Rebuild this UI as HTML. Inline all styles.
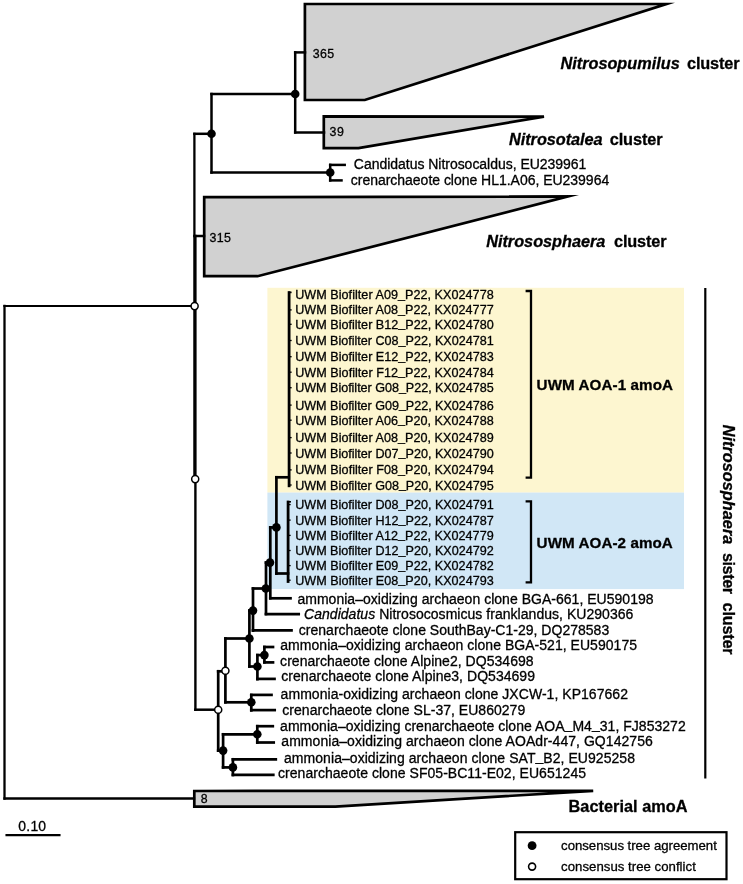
<!DOCTYPE html>
<html><head><meta charset="utf-8"><title>amoA phylogenetic tree</title>
<style>
html,body{margin:0;padding:0;background:#fff;}
body{width:743px;height:884px;overflow:hidden;font-family:"Liberation Sans",sans-serif;}
svg{display:block;will-change:transform;}
svg text{font-family:"Liberation Sans",sans-serif;fill:#000;stroke:#000;stroke-width:0.3px;}
.i{font-style:italic}.b{font-weight:bold}.bi{font-weight:bold;font-style:italic}
</style></head><body>
<svg width="743" height="884" viewBox="0 0 743 884">
<rect width="743" height="884" fill="#fff"/>
<rect x="267.4" y="287.8" width="416.6" height="204.8" fill="#fdf6d0"/>
<rect x="267.4" y="492.6" width="416.6" height="96.5" fill="#d1e7f6"/>
<g fill="#d1d1d1" stroke="#000" stroke-width="2.7" stroke-linejoin="miter" stroke-miterlimit="10">
<polygon points="304.9,4.0 666.3,4.0 364.8,100.0 304.9,100.0"/>
<polygon points="323.8,116.4 544.0,116.6 358.5,148.1 323.8,148.1"/>
<polygon points="204.2,197.2 568.2,196.4 257.5,276.2 204.2,276.2"/>
<polygon points="194.3,791.0 593.2,790.8 335.4,806.6 194.3,806.6"/>
</g>
<g stroke="#000" stroke-linecap="square" fill="none">
<line x1="4.5" y1="306.0" x2="194.3" y2="306.0" stroke-width="2.2"/>
<line x1="4.5" y1="306.0" x2="4.5" y2="798.5" stroke-width="2.3"/>
<line x1="4.5" y1="798.5" x2="194.0" y2="798.5" stroke-width="2.3"/>
<line x1="194.4" y1="133.8" x2="194.4" y2="479.3" stroke-width="2.3"/>
<line x1="195.4" y1="236.0" x2="195.4" y2="709.7" stroke-width="2.4"/>
<line x1="194.4" y1="133.8" x2="211.5" y2="133.8" stroke-width="2.5"/>
<line x1="211.5" y1="94.0" x2="211.5" y2="172.5" stroke-width="2.5"/>
<line x1="211.5" y1="94.0" x2="295.2" y2="94.0" stroke-width="2.5"/>
<line x1="295.2" y1="52.4" x2="295.2" y2="132.4" stroke-width="2.5"/>
<line x1="295.2" y1="52.4" x2="305.0" y2="52.4" stroke-width="2.5"/>
<line x1="295.2" y1="132.4" x2="324.0" y2="132.4" stroke-width="2.5"/>
<line x1="211.5" y1="172.5" x2="330.2" y2="172.5" stroke-width="2.5"/>
<line x1="330.2" y1="164.9" x2="330.2" y2="180.4" stroke-width="2.5"/>
<line x1="330.2" y1="164.9" x2="344.7" y2="164.9" stroke-width="2.5"/>
<line x1="330.2" y1="180.4" x2="341.5" y2="180.4" stroke-width="2.5"/>
<line x1="194.4" y1="236.0" x2="204.0" y2="236.0" stroke-width="2.5"/>
<line x1="195.4" y1="709.7" x2="218.2" y2="709.7" stroke-width="2.5"/>
<line x1="218.2" y1="671.3" x2="218.2" y2="750.6" stroke-width="2.7"/>
<line x1="218.2" y1="671.3" x2="225.4" y2="671.3" stroke-width="2.7"/>
<line x1="225.4" y1="638.5" x2="225.4" y2="702.3" stroke-width="2.7"/>
<line x1="225.4" y1="638.5" x2="249.4" y2="638.5" stroke-width="2.7"/>
<line x1="225.4" y1="702.3" x2="251.3" y2="702.3" stroke-width="2.7"/>
<line x1="251.3" y1="695.0" x2="251.3" y2="710.4" stroke-width="2.7"/>
<line x1="251.3" y1="694.9" x2="271.5" y2="694.9" stroke-width="2.7"/>
<line x1="251.3" y1="710.1" x2="274.7" y2="710.1" stroke-width="2.7"/>
<line x1="218.2" y1="750.6" x2="223.1" y2="750.6" stroke-width="2.7"/>
<line x1="223.1" y1="734.3" x2="223.1" y2="767.4" stroke-width="2.7"/>
<line x1="223.1" y1="734.3" x2="257.3" y2="734.3" stroke-width="2.7"/>
<line x1="257.3" y1="726.2" x2="257.3" y2="742.5" stroke-width="2.7"/>
<line x1="257.3" y1="726.2" x2="272.8" y2="726.2" stroke-width="2.7"/>
<line x1="257.3" y1="742.5" x2="273.7" y2="742.5" stroke-width="2.7"/>
<line x1="223.1" y1="767.4" x2="232.9" y2="767.4" stroke-width="2.7"/>
<line x1="232.9" y1="759.3" x2="232.9" y2="775.0" stroke-width="2.7"/>
<line x1="232.9" y1="759.3" x2="275.8" y2="759.3" stroke-width="2.7"/>
<line x1="232.9" y1="774.9" x2="273.3" y2="774.9" stroke-width="2.7"/>
<line x1="249.4" y1="610.6" x2="249.4" y2="666.5" stroke-width="2.7"/>
<line x1="249.4" y1="666.5" x2="257.4" y2="666.5" stroke-width="2.7"/>
<line x1="257.4" y1="655.1" x2="257.4" y2="679.2" stroke-width="2.7"/>
<line x1="257.4" y1="655.1" x2="264.4" y2="655.1" stroke-width="2.7"/>
<line x1="264.4" y1="647.0" x2="264.4" y2="662.3" stroke-width="2.7"/>
<line x1="264.4" y1="647.0" x2="273.0" y2="647.0" stroke-width="2.7"/>
<line x1="264.4" y1="662.4" x2="273.0" y2="662.4" stroke-width="2.7"/>
<line x1="257.4" y1="678.9" x2="274.5" y2="678.9" stroke-width="2.7"/>
<line x1="249.4" y1="610.6" x2="253.0" y2="610.6" stroke-width="2.7"/>
<line x1="253.0" y1="588.5" x2="253.0" y2="630.6" stroke-width="2.7"/>
<line x1="253.0" y1="630.4" x2="291.5" y2="630.4" stroke-width="2.7"/>
<line x1="253.0" y1="588.5" x2="266.0" y2="588.5" stroke-width="2.7"/>
<line x1="266.0" y1="562.6" x2="266.0" y2="614.0" stroke-width="2.7"/>
<line x1="266.0" y1="614.1" x2="298.7" y2="614.1" stroke-width="2.7"/>
<line x1="266.0" y1="562.6" x2="270.3" y2="562.6" stroke-width="2.7"/>
<line x1="270.3" y1="527.4" x2="270.3" y2="598.2" stroke-width="2.7"/>
<line x1="270.3" y1="598.3" x2="290.5" y2="598.3" stroke-width="2.7"/>
<line x1="270.3" y1="527.4" x2="276.4" y2="527.4" stroke-width="2.7"/>
<line x1="276.4" y1="477.3" x2="276.4" y2="573.5" stroke-width="2.7"/>
<line x1="276.4" y1="477.3" x2="288.7" y2="477.3" stroke-width="2.7"/>
<line x1="276.4" y1="573.5" x2="288.0" y2="573.5" stroke-width="2.7"/>
<line x1="289.1" y1="292.6" x2="289.1" y2="485.8" stroke-width="2.8"/>
<line x1="289.1" y1="292.4" x2="290.8" y2="292.4" stroke-width="1.6"/>
<line x1="288.1" y1="502.0" x2="288.1" y2="581.5" stroke-width="2.8"/>
<line x1="288.1" y1="501.8" x2="290.2" y2="501.8" stroke-width="1.6"/>
<line x1="705.3" y1="289.2" x2="705.3" y2="777.4" stroke-width="2.2"/>
<line x1="6.6" y1="835.2" x2="59.4" y2="835.2" stroke-width="2.3"/>
<line x1="289.1" y1="309.9" x2="291.0" y2="309.9" stroke-width="1.3"/>
<line x1="289.1" y1="324.3" x2="291.0" y2="324.3" stroke-width="1.3"/>
<line x1="289.1" y1="340.5" x2="291.0" y2="340.5" stroke-width="1.3"/>
<line x1="289.1" y1="356.7" x2="291.0" y2="356.7" stroke-width="1.3"/>
<line x1="289.1" y1="372.2" x2="291.0" y2="372.2" stroke-width="1.3"/>
<line x1="289.1" y1="387.7" x2="291.0" y2="387.7" stroke-width="1.3"/>
<line x1="289.1" y1="405.1" x2="291.0" y2="405.1" stroke-width="1.3"/>
<line x1="289.1" y1="420.2" x2="291.0" y2="420.2" stroke-width="1.3"/>
<line x1="289.1" y1="437.6" x2="291.0" y2="437.6" stroke-width="1.3"/>
<line x1="289.1" y1="453.0" x2="291.0" y2="453.0" stroke-width="1.3"/>
<line x1="289.1" y1="469.9" x2="291.0" y2="469.9" stroke-width="1.3"/>
<line x1="289.1" y1="485.0" x2="291.0" y2="485.0" stroke-width="1.3"/>
<line x1="288.1" y1="504.6" x2="290.0" y2="504.6" stroke-width="1.3"/>
<line x1="288.1" y1="520.1" x2="290.0" y2="520.1" stroke-width="1.3"/>
<line x1="288.1" y1="535.4" x2="290.0" y2="535.4" stroke-width="1.3"/>
<line x1="288.1" y1="550.5" x2="290.0" y2="550.5" stroke-width="1.3"/>
<line x1="288.1" y1="565.6" x2="290.0" y2="565.6" stroke-width="1.3"/>
<line x1="288.1" y1="580.2" x2="290.0" y2="580.2" stroke-width="1.3"/>
</g>
<path d="M525.6,291.0 H531.0 V477.6 H525.6 M525.6,501.4 H531.0 V582.3 H525.6" fill="none" stroke="#000" stroke-width="2.3"/>
<g>
<circle cx="295.2" cy="94.0" r="4.3" fill="#000"/>
<circle cx="211.5" cy="133.8" r="4.3" fill="#000"/>
<circle cx="330.2" cy="172.5" r="4.3" fill="#000"/>
<circle cx="194.6" cy="306.1" r="3.55" fill="#fff" stroke="#000" stroke-width="1.5"/>
<circle cx="195.2" cy="479.1" r="3.55" fill="#fff" stroke="#000" stroke-width="1.5"/>
<circle cx="276.4" cy="527.4" r="4.3" fill="#000"/>
<circle cx="270.0" cy="562.6" r="4.3" fill="#000"/>
<circle cx="265.8" cy="588.5" r="4.3" fill="#000"/>
<circle cx="253.0" cy="610.6" r="4.3" fill="#000"/>
<circle cx="249.4" cy="638.5" r="4.3" fill="#000"/>
<circle cx="257.4" cy="666.5" r="4.3" fill="#000"/>
<circle cx="264.4" cy="655.1" r="4.3" fill="#000"/>
<circle cx="225.4" cy="670.8" r="3.55" fill="#fff" stroke="#000" stroke-width="1.5"/>
<circle cx="218.2" cy="709.7" r="3.55" fill="#fff" stroke="#000" stroke-width="1.5"/>
<circle cx="251.3" cy="702.3" r="4.3" fill="#000"/>
<circle cx="223.1" cy="750.6" r="4.3" fill="#000"/>
<circle cx="257.3" cy="734.3" r="4.3" fill="#000"/>
<circle cx="232.9" cy="767.4" r="4.3" fill="#000"/>
</g>
<rect x="515.2" y="832.2" width="211.3" height="47" fill="#fff" stroke="#000" stroke-width="2.2"/>
<circle cx="532.1" cy="845.7" r="4.4" fill="#000"/>
<circle cx="532.1" cy="866.6" r="3.5" fill="#fff" stroke="#000" stroke-width="1.6"/>
<g id="labels" style="opacity:0.999">
<text x="295.2" y="299.2" font-size="12.6" textLength="198.5" lengthAdjust="spacing" xml:space="preserve"><tspan>UWM Biofilter A09<tspan dy="-1.45">_</tspan><tspan dy="1.45">P</tspan>22, KX024778</tspan></text>
<text x="295.2" y="314.4" font-size="12.6" textLength="198.5" lengthAdjust="spacing" xml:space="preserve"><tspan>UWM Biofilter A08<tspan dy="-1.45">_</tspan><tspan dy="1.45">P</tspan>22, KX024777</tspan></text>
<text x="295.2" y="328.8" font-size="12.6" textLength="198.5" lengthAdjust="spacing" xml:space="preserve"><tspan>UWM Biofilter B12<tspan dy="-1.45">_</tspan><tspan dy="1.45">P</tspan>22, KX024780</tspan></text>
<text x="295.2" y="345.0" font-size="12.6" textLength="198.5" lengthAdjust="spacing" xml:space="preserve"><tspan>UWM Biofilter C08<tspan dy="-1.45">_</tspan><tspan dy="1.45">P</tspan>22, KX024781</tspan></text>
<text x="295.2" y="361.2" font-size="12.6" textLength="198.5" lengthAdjust="spacing" xml:space="preserve"><tspan>UWM Biofilter E12<tspan dy="-1.45">_</tspan><tspan dy="1.45">P</tspan>22, KX024783</tspan></text>
<text x="295.2" y="376.7" font-size="12.6" textLength="198.5" lengthAdjust="spacing" xml:space="preserve"><tspan>UWM Biofilter F12<tspan dy="-1.45">_</tspan><tspan dy="1.45">P</tspan>22, KX024784</tspan></text>
<text x="295.2" y="392.2" font-size="12.6" textLength="198.5" lengthAdjust="spacing" xml:space="preserve"><tspan>UWM Biofilter G08<tspan dy="-1.45">_</tspan><tspan dy="1.45">P</tspan>22, KX024785</tspan></text>
<text x="295.2" y="409.6" font-size="12.6" textLength="198.5" lengthAdjust="spacing" xml:space="preserve"><tspan>UWM Biofilter G09<tspan dy="-1.45">_</tspan><tspan dy="1.45">P</tspan>22, KX024786</tspan></text>
<text x="295.2" y="424.7" font-size="12.6" textLength="198.5" lengthAdjust="spacing" xml:space="preserve"><tspan>UWM Biofilter A06<tspan dy="-1.45">_</tspan><tspan dy="1.45">P</tspan>20, KX024788</tspan></text>
<text x="295.2" y="442.1" font-size="12.6" textLength="198.5" lengthAdjust="spacing" xml:space="preserve"><tspan>UWM Biofilter A08<tspan dy="-1.45">_</tspan><tspan dy="1.45">P</tspan>20, KX024789</tspan></text>
<text x="295.2" y="457.5" font-size="12.6" textLength="198.5" lengthAdjust="spacing" xml:space="preserve"><tspan>UWM Biofilter D07<tspan dy="-1.45">_</tspan><tspan dy="1.45">P</tspan>20, KX024790</tspan></text>
<text x="295.2" y="474.4" font-size="12.6" textLength="198.5" lengthAdjust="spacing" xml:space="preserve"><tspan>UWM Biofilter F08<tspan dy="-1.45">_</tspan><tspan dy="1.45">P</tspan>20, KX024794</tspan></text>
<text x="295.2" y="489.5" font-size="12.6" textLength="198.5" lengthAdjust="spacing" xml:space="preserve"><tspan>UWM Biofilter G08<tspan dy="-1.45">_</tspan><tspan dy="1.45">P</tspan>20, KX024795</tspan></text>
<text x="295.2" y="509.1" font-size="12.6" textLength="198.5" lengthAdjust="spacing" xml:space="preserve"><tspan>UWM Biofilter D08<tspan dy="-1.45">_</tspan><tspan dy="1.45">P</tspan>20, KX024791</tspan></text>
<text x="295.2" y="524.6" font-size="12.6" textLength="198.5" lengthAdjust="spacing" xml:space="preserve"><tspan>UWM Biofilter H12<tspan dy="-1.45">_</tspan><tspan dy="1.45">P</tspan>22, KX024787</tspan></text>
<text x="295.2" y="539.9" font-size="12.6" textLength="198.5" lengthAdjust="spacing" xml:space="preserve"><tspan>UWM Biofilter A12<tspan dy="-1.45">_</tspan><tspan dy="1.45">P</tspan>22, KX024779</tspan></text>
<text x="295.2" y="555.0" font-size="12.6" textLength="198.5" lengthAdjust="spacing" xml:space="preserve"><tspan>UWM Biofilter D12<tspan dy="-1.45">_</tspan><tspan dy="1.45">P</tspan>20, KX024792</tspan></text>
<text x="295.2" y="570.1" font-size="12.6" textLength="198.5" lengthAdjust="spacing" xml:space="preserve"><tspan>UWM Biofilter E09<tspan dy="-1.45">_</tspan><tspan dy="1.45">P</tspan>22, KX024782</tspan></text>
<text x="295.2" y="584.7" font-size="12.6" textLength="198.5" lengthAdjust="spacing" xml:space="preserve"><tspan>UWM Biofilter E08<tspan dy="-1.45">_</tspan><tspan dy="1.45">P</tspan>20, KX024793</tspan></text>
<text x="297.4" y="604.3" font-size="14.0" textLength="356.2" lengthAdjust="spacing" xml:space="preserve"><tspan>ammonia–oxidizing archaeon clone BGA-661, EU590198</tspan></text>
<text x="304.0" y="618.7" font-size="14.0" textLength="329.4" lengthAdjust="spacing" xml:space="preserve"><tspan class="i">Candidatus</tspan><tspan> Nitrosocosmicus franklandus, KU290366</tspan></text>
<text x="298.8" y="634.5" font-size="14.0" textLength="310.4" lengthAdjust="spacing" xml:space="preserve"><tspan>crenarchaeote clone SouthBay-C1-29, DQ278583</tspan></text>
<text x="280.3" y="650.0" font-size="14.0" textLength="356.7" lengthAdjust="spacing" xml:space="preserve"><tspan>ammonia–oxidizing archaeon clone BGA-521, EU590175</tspan></text>
<text x="280.1" y="665.5" font-size="14.0" textLength="253.5" lengthAdjust="spacing" xml:space="preserve"><tspan>crenarchaeote clone Alpine2, DQ534698</tspan></text>
<text x="281.3" y="681.3" font-size="14.0" textLength="253.7" lengthAdjust="spacing" xml:space="preserve"><tspan>crenarchaeote clone Alpine3, DQ534699</tspan></text>
<text x="280.6" y="698.5" font-size="14.0" textLength="347.4" lengthAdjust="spacing" xml:space="preserve"><tspan>ammonia-oxidizing archaeon clone JXCW-1, KP167662</tspan></text>
<text x="282.3" y="714.6" font-size="14.0" textLength="242.9" lengthAdjust="spacing" xml:space="preserve"><tspan>crenarchaeote clone SL-37, EU860279</tspan></text>
<text x="280.1" y="730.7" font-size="14.0" textLength="405.6" lengthAdjust="spacing" xml:space="preserve"><tspan>ammonia–oxidizing crenarchaeote clone AOA<tspan dy="-1.61">_</tspan><tspan dy="1.61">M</tspan>4<tspan dy="-1.61">_</tspan><tspan dy="1.61">3</tspan>1, FJ853272</tspan></text>
<text x="281.3" y="746.2" font-size="14.0" textLength="371.5" lengthAdjust="spacing" xml:space="preserve"><tspan>ammonia–oxidizing archaeon clone AOAdr-447, GQ142756</tspan></text>
<text x="284.0" y="762.7" font-size="14.0" textLength="351.0" lengthAdjust="spacing" xml:space="preserve"><tspan>ammonia–oxidizing archaeon clone SAT<tspan dy="-1.61">_</tspan><tspan dy="1.61">B</tspan>2, EU925258</tspan></text>
<text x="278.0" y="777.7" font-size="14.0" textLength="308.0" lengthAdjust="spacing" xml:space="preserve"><tspan>crenarchaeote clone SF05-BC11-E02, EU651245</tspan></text>
<text x="353.8" y="169.2" font-size="14.0" textLength="232.6" lengthAdjust="spacing" xml:space="preserve"><tspan>Candidatus Nitrosocaldus, EU239961</tspan></text>
<text x="350.8" y="184.8" font-size="14.0" textLength="258.4" lengthAdjust="spacing" xml:space="preserve"><tspan>crenarchaeote clone HL1.A06, EU239964</tspan></text>
<text x="312.7" y="57.6" font-size="12.4" textLength="21.5" lengthAdjust="spacing" xml:space="preserve"><tspan>365</tspan></text>
<text x="329.6" y="136.1" font-size="12.4" textLength="14.4" lengthAdjust="spacing" xml:space="preserve"><tspan>39</tspan></text>
<text x="209.5" y="241.7" font-size="12.4" textLength="21.5" lengthAdjust="spacing" xml:space="preserve"><tspan>315</tspan></text>
<text x="200.7" y="803.0" font-size="12.3" textLength="7.2" lengthAdjust="spacing" xml:space="preserve"><tspan>8</tspan></text>
<text x="18.3" y="830.5" font-size="13.9" textLength="27.8" lengthAdjust="spacing" xml:space="preserve"><tspan>0.10</tspan></text>
<text x="560.5" y="69.1" font-size="16.3" textLength="119.2" lengthAdjust="spacing" xml:space="preserve"><tspan class="bi">Nitrosopumilus</tspan></text>
<text x="687.0" y="69.1" font-size="16.3" textLength="52.5" lengthAdjust="spacing" xml:space="preserve"><tspan class="b">cluster</tspan></text>
<text x="509.1" y="144.6" font-size="16.3" textLength="93.4" lengthAdjust="spacing" xml:space="preserve"><tspan class="bi">Nitrosotalea</tspan></text>
<text x="609.7" y="144.6" font-size="16.3" textLength="52.8" lengthAdjust="spacing" xml:space="preserve"><tspan class="b">cluster</tspan></text>
<text x="486.2" y="247.1" font-size="16.3" textLength="119.2" lengthAdjust="spacing" xml:space="preserve"><tspan class="bi">Nitrososphaera</tspan></text>
<text x="614.0" y="247.1" font-size="16.3" textLength="52.5" lengthAdjust="spacing" xml:space="preserve"><tspan class="b">cluster</tspan></text>
<text x="536.6" y="389.7" font-size="15.2" textLength="136.4" lengthAdjust="spacing" xml:space="preserve"><tspan class="b">UWM AOA-1 amoA</tspan></text>
<text x="536.6" y="547.6" font-size="15.2" textLength="136.2" lengthAdjust="spacing" xml:space="preserve"><tspan class="b">UWM AOA-2 amoA</tspan></text>
<text x="568.5" y="811.6" font-size="16.3" textLength="119.0" lengthAdjust="spacing" xml:space="preserve"><tspan class="b">Bacterial amoA</tspan></text>
<text x="561.1" y="850.4" font-size="13.2" textLength="155.7" lengthAdjust="spacing" xml:space="preserve"><tspan>consensus tree agreement</tspan></text>
<text x="561.1" y="871.0" font-size="13.2" textLength="134.7" lengthAdjust="spacing" xml:space="preserve"><tspan>consensus tree conflict</tspan></text>
<g transform="translate(723.2,0) rotate(90)" font-size="16.3"><text x="424.7" y="0" textLength="119.6" class="bi">Nitrososphaera</text><text x="552.9" y="0" textLength="41.2" class="b">sister</text><text x="602.6" y="0" textLength="52" class="b">cluster</text></g>
</g>
</svg>
</body></html>
